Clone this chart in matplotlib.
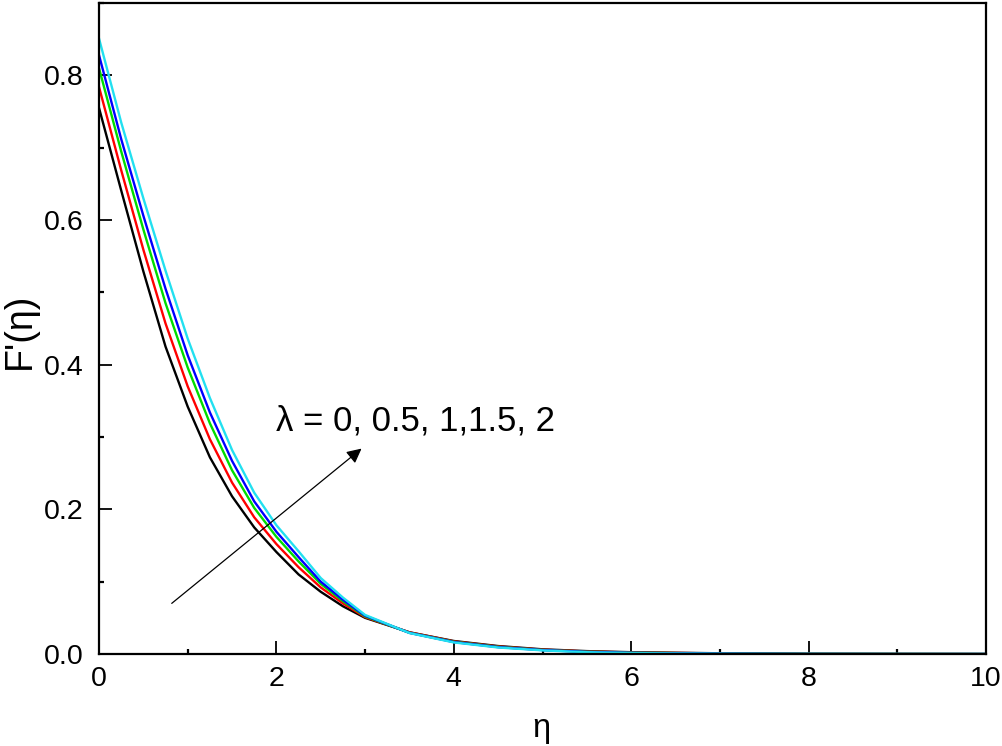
import matplotlib
matplotlib.use("Agg")
import matplotlib.pyplot as plt
from matplotlib.ticker import MultipleLocator

plt.rcParams['font.family'] = ['Liberation Sans', 'DejaVu Sans']

eta = [0, 0.25, 0.5, 0.75, 1.0, 1.25, 1.5, 1.75, 2.0, 2.25, 2.5, 2.75, 3.0,
       3.5, 4.0, 4.5, 5.0, 5.5, 6.0, 7.0, 8.0, 9.0, 10.0]

f_l0 = [0.755, 0.641, 0.529, 0.425, 0.342, 0.272, 0.218, 0.175, 0.141, 0.110, 0.086,
        0.066, 0.050, 0.030, 0.018, 0.011, 0.0065, 0.004, 0.0025, 0.001, 0.0003, 0.0001, 0.0]
f_l05 = [0.784, 0.669, 0.559, 0.457, 0.370, 0.297, 0.237, 0.189, 0.152, 0.120, 0.092,
         0.070, 0.051, 0.030, 0.0174, 0.0104, 0.006, 0.0035, 0.0021, 0.0008, 0.0002, 0.0001, 0.0]
f_l1 = [0.810, 0.695, 0.587, 0.485, 0.396, 0.319, 0.254, 0.202, 0.162, 0.128, 0.097,
        0.073, 0.052, 0.0294, 0.0169, 0.0099, 0.0056, 0.0031, 0.0018, 0.0006, 0.0002, 0.0001, 0.0]
f_l15 = [0.828, 0.712, 0.606, 0.505, 0.413, 0.334, 0.267, 0.211, 0.169, 0.134, 0.100,
         0.075, 0.053, 0.0292, 0.0165, 0.0095, 0.0054, 0.0029, 0.0016, 0.0005, 0.0001, 0.0, 0.0]
f_l2 = [0.851, 0.735, 0.630, 0.530, 0.436, 0.354, 0.282, 0.223, 0.178, 0.142, 0.105,
        0.078, 0.054, 0.029, 0.016, 0.009, 0.005, 0.0025, 0.0013, 0.0003, 0.0001, 0.0, 0.0]

series = [f_l0, f_l05, f_l1, f_l15, f_l2]
colors = ['black', '#ff0000', '#00dd00', '#0000ff', '#22e0f0']

x_ticks = [0, 2, 4, 6, 8, 10]
y_ticks = [0.0, 0.2, 0.4, 0.6, 0.8]
label_text = "λ = 0, 0.5, 1,1.5, 2"

W, H = 1003, 746
fig = plt.figure(figsize=(W / 100, H / 100), dpi=100)
ax = fig.add_axes([99 / W, 1 - 654 / H, (986 - 99) / W, (654 - 3) / H])

for ys, c in zip(series, colors):
    ax.plot(eta, ys, color=c, lw=1.7, solid_joinstyle='round')

ax.set_xlim(0, 10)
ax.set_ylim(0, 0.9)
ax.set_xticks(x_ticks)
ax.set_yticks(y_ticks)
ax.set_xticklabels([str(v) for v in x_ticks])
ax.set_yticklabels([f"{v:.1f}" for v in y_ticks])
ax.xaxis.set_minor_locator(MultipleLocator(1))
ax.yaxis.set_minor_locator(MultipleLocator(0.1))
ax.tick_params(which='major', direction='in', length=9.5, width=1.3,
               labelsize=20.5, top=False, right=False)
ax.tick_params(axis='x', which='major', pad=9)
ax.tick_params(axis='y', which='major', pad=11)
ax.tick_params(which='minor', direction='in', length=3.8, width=1.6,
               top=False, right=False)
for s in ax.spines.values():
    s.set_linewidth(1.6)

fig.text(541 / W, 1 - 728 / H, "η", fontsize=23.5, ha='center', va='center')
fig.text(20 / W, 1 - 331 / H, "F'(η)", fontsize=27, ha='center', va='center',
         rotation=90)

ax.annotate("", xy=(2.96, 0.284), xytext=(0.82, 0.070),
            arrowprops=dict(arrowstyle='-|>', color='black', lw=0.9,
                            mutation_scale=22, shrinkA=0, shrinkB=0))
ax.text(1.99, 0.309, label_text, fontsize=25, va='baseline', ha='left')

fig.savefig("out.png", dpi=100)
